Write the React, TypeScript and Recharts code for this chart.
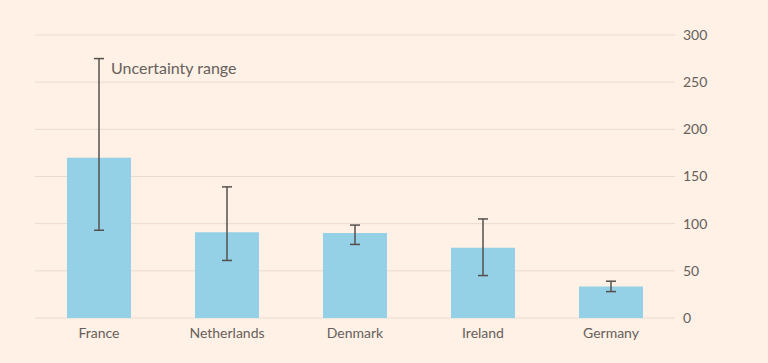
import React from "react";
import { BarChart, Bar, XAxis, YAxis, CartesianGrid, ErrorBar, ReferenceDot } from "recharts";

const countries = ["France", "Netherlands", "Denmark", "Ireland", "Germany"];
const values = [170, 91, 90, 74.5, 33.5];
const lows = [93, 61, 78, 45, 28];
const highs = [275, 139, 98.5, 105, 39];
const yTicks = [0, 50, 100, 150, 200, 250, 300];

const data = countries.map((c, i) => ({
  name: c,
  value: values[i],
  err: [values[i] - lows[i], highs[i] - values[i]],
}));

const textColor = "#66605c";
const font = "Lato, 'Open Sans', sans-serif";

export default function App() {
  return (
    <div style={{ position: "absolute", left: 0, top: 0, width: 768, height: 363, background: "#fff1e5" }}>
      <BarChart width={768} height={363} data={data} margin={{ top: 35, right: 0, bottom: 15, left: 35 }}>
        <CartesianGrid vertical={false} stroke="#e8dbd0" strokeWidth={1} />
        <XAxis
          dataKey="name"
          axisLine={false}
          tickLine={false}
          height={30}
          tickMargin={4}
          tick={{ fill: textColor, fontSize: 14, fontFamily: font }}
        />
        <YAxis
          orientation="right"
          domain={[0, 300]}
          ticks={yTicks}
          axisLine={false}
          tickLine={false}
          width={93}
          tickSize={0}
          tickMargin={8}
          tick={{ fill: textColor, fontSize: 14, fontFamily: font }}
        />
        <Bar dataKey="value" fill="#94d0e6" barSize={64} isAnimationActive={false}>
          <ErrorBar dataKey="err" width={5} stroke="#55504d" strokeWidth={1.5} />
        </Bar>
        <ReferenceDot
          x="France"
          y={265}
          r={0}
          fill="none"
          stroke="none"
          label={{ value: "Uncertainty range", position: "right", offset: 12, fill: textColor, fontSize: 16, fontFamily: font }}
        />
      </BarChart>
    </div>
  );
}
